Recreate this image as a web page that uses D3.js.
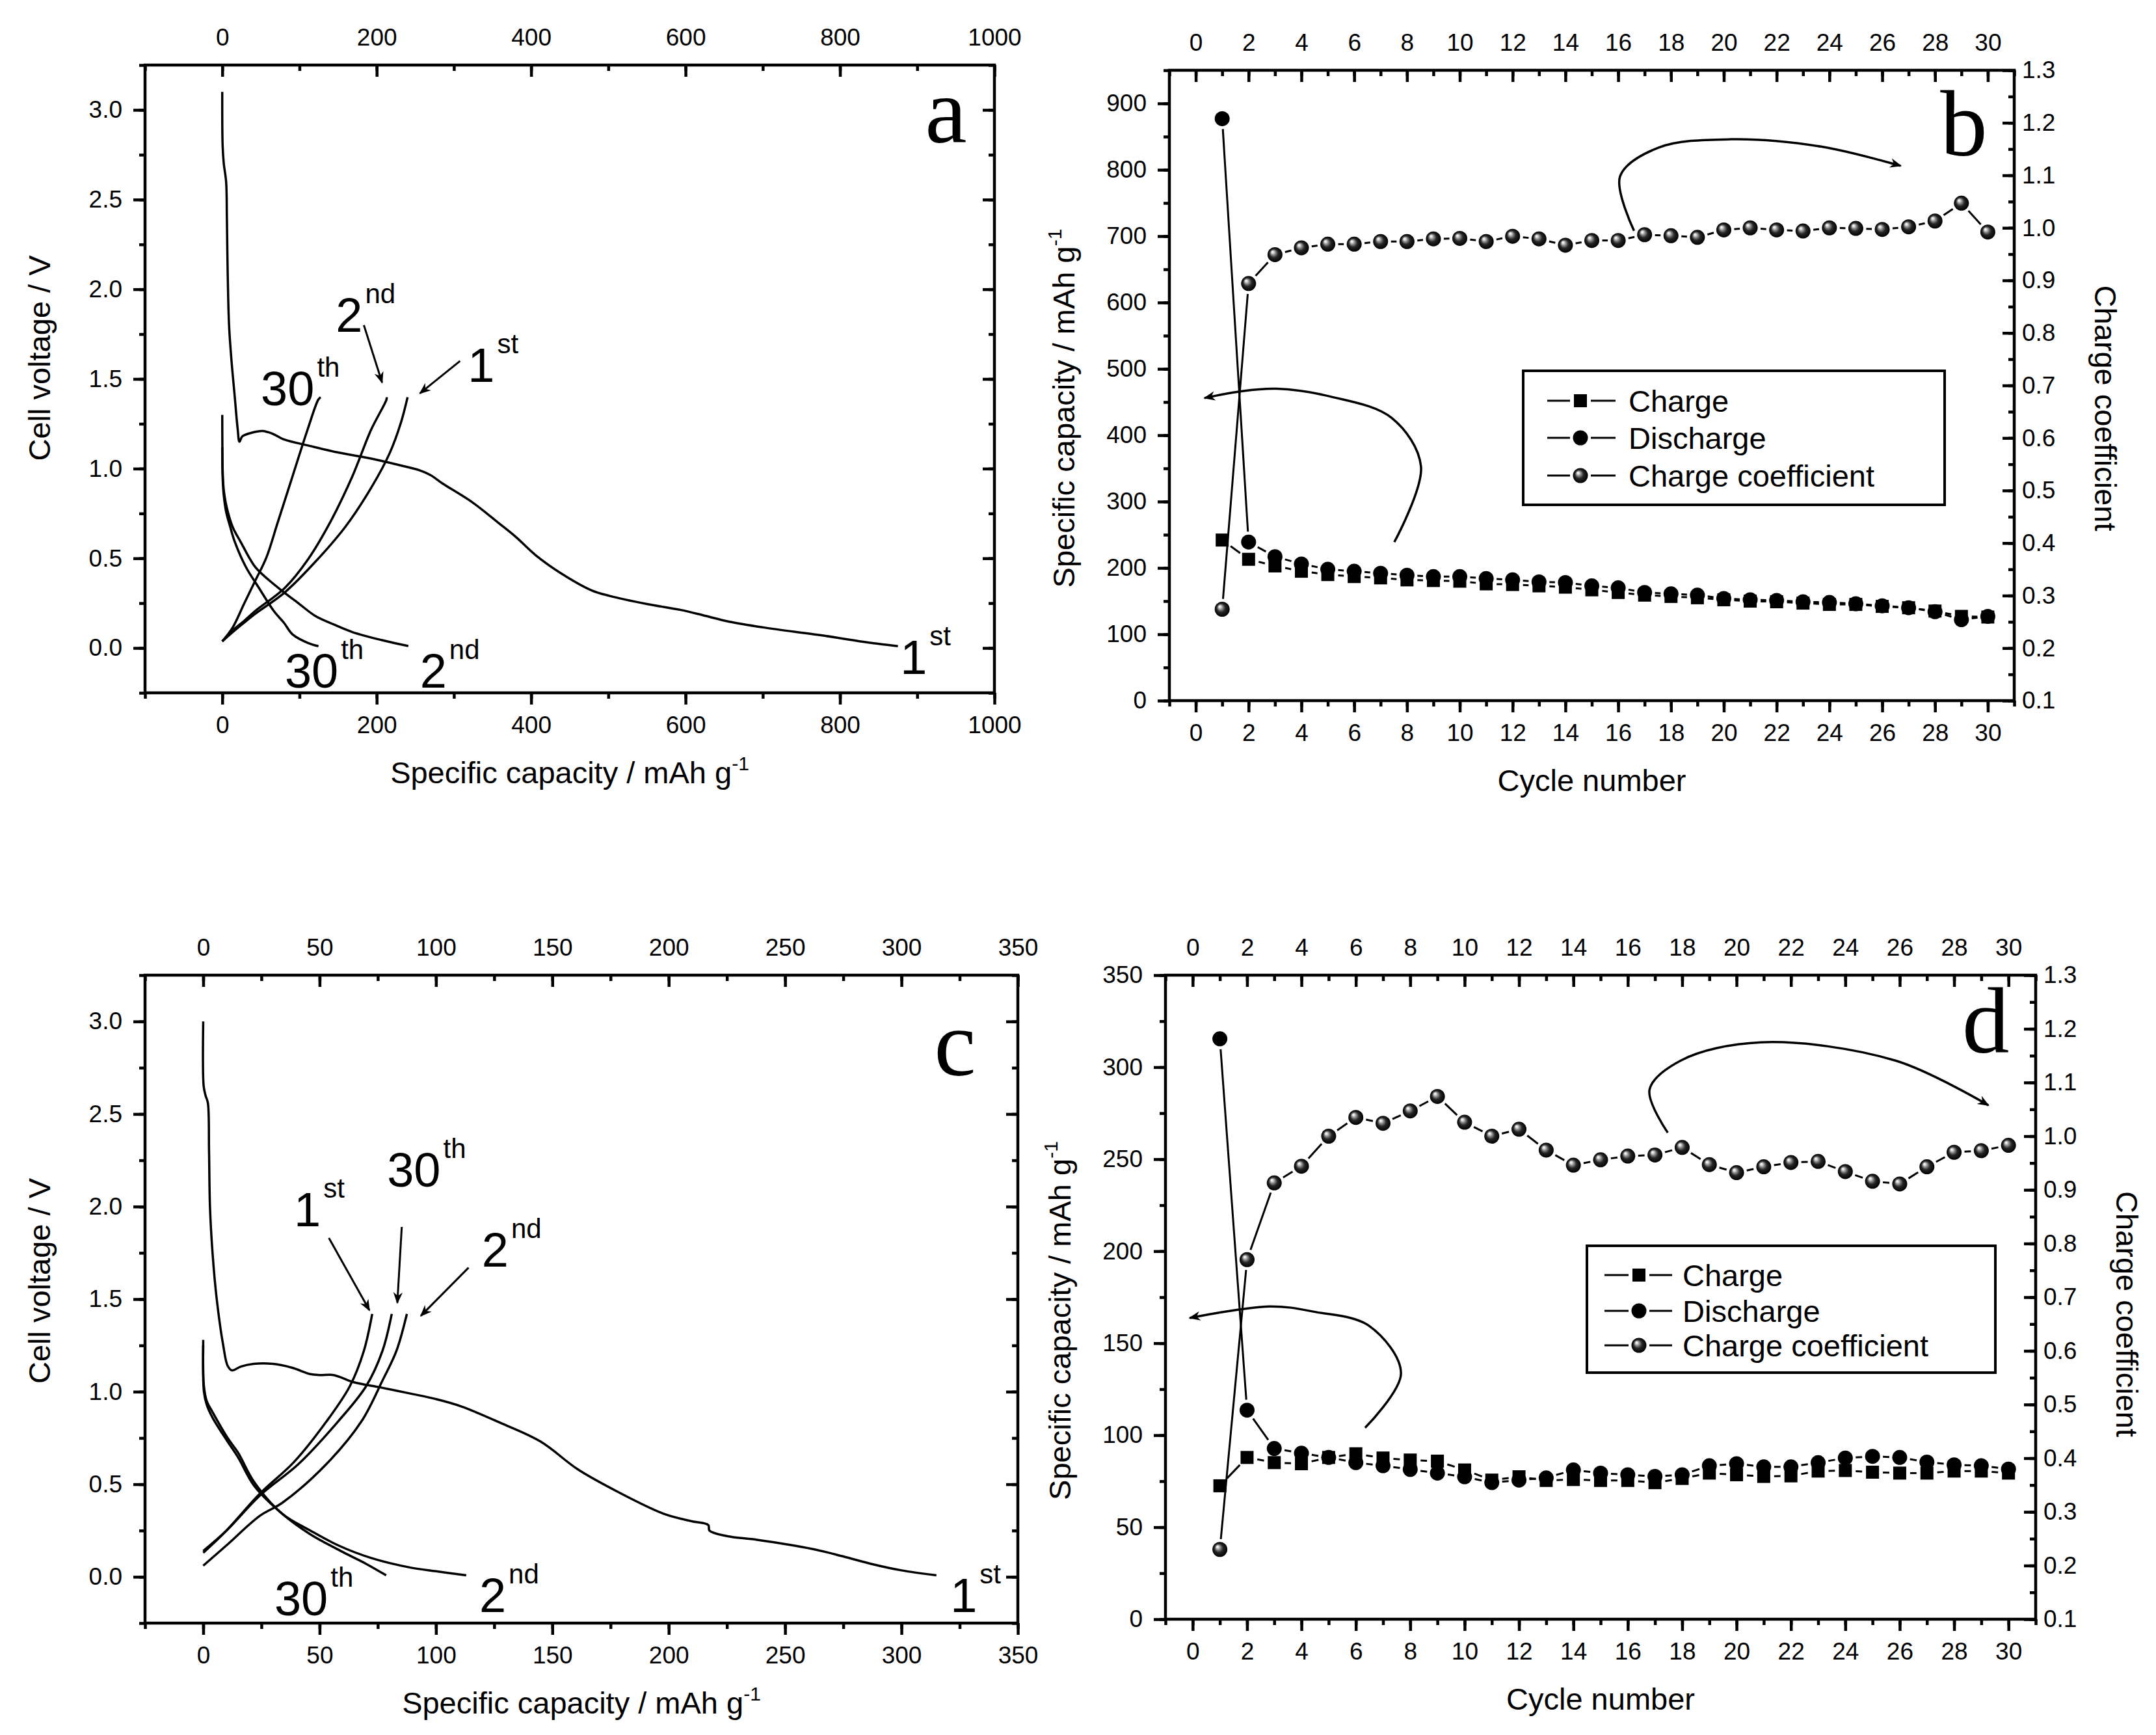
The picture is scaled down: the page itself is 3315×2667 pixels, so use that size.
<!DOCTYPE html>
<html>
<head>
<meta charset="utf-8">
<script src="https://cdn.jsdelivr.net/npm/d3@7"></script>
<style>
body { margin: 0; background: #fff; }
</style>
</head>
<body>
<script>
// ---- data: panel a (voltage profiles, mAh/g vs V)
const aDis1 = [[0,3.10],[0.5,2.80],[2,2.70],[5,2.60],[6,2.40],[7,2.10],[8.8,1.80],[12,1.60],[16,1.41],[20,1.22],[22.3,1.15],[26,1.18],[38,1.20],[52,1.21],[65,1.195],[79,1.164],[115,1.125],[150,1.09],[188,1.06],[227,1.022],[256,0.99],[270,0.963],[285,0.918],[323,0.815],[357,0.70],[380,0.62],[406,0.517],[440,0.413],[478,0.322],[502,0.29],[550,0.245],[594,0.212],[625,0.18],[656,0.147],[700,0.115],[777,0.07],[830,0.035],[875,0.01]];
const aDis2 = [[0,1.30],[0.2,1.10],[0.6,0.98],[2,0.88],[6,0.78],[13.7,0.672],[23.4,0.595],[42.6,0.452],[60,0.38],[76.5,0.322],[100,0.245],[120,0.18],[145,0.13],[168.5,0.089],[206.7,0.044],[241,0.011]];
const aDis30 = [[0,1.12],[0.5,0.95],[2,0.85],[5,0.76],[10,0.68],[16,0.595],[30.6,0.452],[47.5,0.335],[66.8,0.206],[80,0.14],[91,0.076],[110,0.03],[124.6,0.01]];
const aCha1 = [[0,0.037],[14,0.09],[28,0.14],[42.6,0.19],[81,0.31],[120,0.478],[158.8,0.672],[192.7,0.892],[216.9,1.087],[231.3,1.255],[240,1.398]];
const aCha2 = [[0,0.037],[14,0.10],[28,0.15],[42.6,0.206],[81,0.335],[110.4,0.49],[139.4,0.698],[168.5,0.957],[192.7,1.216],[212.6,1.384],[213,1.398]];
const aCha30 = [[0,0.037],[13.6,0.115],[28,0.244],[42.6,0.374],[57.1,0.504],[71.7,0.698],[91,0.957],[110.4,1.216],[124.3,1.384],[127.4,1.398]];

// ---- data: panel c
const cDis1 = [[0,3.0],[0.2,2.65],[1.0,2.60],[2.0,2.56],[2.5,2.3],[2.9,2.0],[4,1.75],[5.8,1.5],[8.6,1.25],[10.5,1.14],[12.4,1.115],[16,1.135],[21.6,1.15],[30,1.15],[38,1.13],[46,1.095],[50,1.09],[56,1.09],[65,1.05],[75,1.026],[89,0.99],[100,0.96],[111,0.92],[128,0.83],[145,0.73],[161,0.58],[178,0.46],[198,0.34],[210,0.30],[217,0.28],[217.5,0.25],[225,0.22],[238,0.20],[262,0.15],[275,0.11],[287,0.07],[300,0.035],[315,0.008]];
const cDis2 = [[0,1.28],[0.3,1.03],[1.5,0.95],[4,0.89],[10.5,0.75],[15,0.67],[22,0.51],[34,0.34],[46,0.25],[58,0.17],[72.6,0.10],[89,0.05],[100,0.03],[113,0.008]];
const cDis30 = [[0,1.25],[0.3,1.0],[1.5,0.93],[4,0.86],[10.5,0.73],[15,0.645],[22,0.49],[34,0.34],[46,0.23],[60.6,0.13],[70,0.07],[78.6,0.008]];
const cCha1 = [[0,0.13],[10,0.25],[24.4,0.45],[39,0.62],[53,0.84],[63,1.03],[69,1.22],[72.6,1.42]];
const cCha2 = [[0,0.06],[10,0.17],[24.4,0.33],[34,0.40],[53,0.61],[68,0.84],[77,1.06],[83,1.22],[87.5,1.42]];
const cCha30 = [[0,0.14],[10,0.25],[24.4,0.44],[41,0.61],[58,0.84],[70,1.03],[77,1.22],[81,1.42]];

// ---- data: panels b and d (per cycle)
const cycles = d3.range(1, 31);
const bCharge = [242,213,203,195,190,187,185,182,181,180,176,175,173,171,167,163,159,157,155,152,150,149,147,145,145,142,140,135,127,126];
const bDischarge = [877,239,217,206,198,195,192,189,187,187,184,182,179,178,173,170,163,161,159,154,152,151,149,148,146,143,140,134,122,127];
const bCoef = [0.274,0.894,0.949,0.962,0.969,0.969,0.974,0.974,0.979,0.980,0.974,0.984,0.979,0.967,0.976,0.976,0.987,0.985,0.982,0.996,1.000,0.996,0.994,1.000,0.999,0.997,1.002,1.013,1.047,0.992];
const dCharge = [72.5,87.9,85.1,84.5,87.9,89.9,87.6,86.5,85.9,81.1,75.6,77.4,75.4,75.9,75.4,75.4,74.2,76.5,79.4,78.5,77.6,77.9,80.5,80.8,79.9,79.4,79.4,80.5,80.5,79.4];
const dDischarge = [315.4,113.6,92.8,90.2,87.9,85.1,83.4,81.4,79.4,77.4,74.2,75.6,76.8,81.1,79.4,78.5,77.6,78.5,83.4,84.5,82.8,82.8,85.1,87.6,88.5,87.9,85.4,83.9,83.4,81.6];
const dCoef = [0.230,0.770,0.913,0.944,1.000,1.035,1.024,1.047,1.074,1.026,1.000,1.013,0.974,0.946,0.956,0.963,0.965,0.979,0.947,0.932,0.943,0.951,0.953,0.934,0.916,0.911,0.943,0.970,0.973,0.983];

// ---- text
const legendNames = ["Charge", "Discharge", "Charge coefficient"];
const capTitle = "Specific capacity / mAh g";
const voltTitle = "Cell voltage / V";
const cycleTitle = "Cycle number";
const coefTitle = "Charge coefficient";

// ---- annotations (data units of each panel)
const aLabels = [{t:"30",s:"th",x:50,y:1.353},{t:"2",s:"nd",x:147,y:1.763},{t:"1",s:"st",x:318,y:1.483},
                 {t:"30",s:"th",x:81,y:-0.221},{t:"2",s:"nd",x:256,y:-0.221},{t:"1",s:"st",x:878,y:-0.145}];
const aArrows = [[[183.4,1.80],[207,1.48]],[[308,1.60],[256,1.42]]];
const cLabels = [{t:"1",s:"st",x:39,y:1.894},{t:"30",s:"th",x:79,y:2.108},{t:"2",s:"nd",x:119.7,y:1.676},
                 {t:"30",s:"th",x:30.6,y:-0.207},{t:"2",s:"nd",x:118.6,y:-0.19},{t:"1",s:"st",x:321,y:-0.19}];
const cArrows = [[[54,1.83],[71.4,1.44]],[[85.3,1.89],[83.4,1.48]],[[114,1.67],[93.5,1.41]]];
const bBends = [[[7.52,239],[8.53,353],[7.42,426],[5.13,458],[3.06,470],[1.68,466],[0.33,456]],
                [[16.6,708],[16.07,790],[17.5,833],[20.26,846],[23.68,835],[26.7,806]]];
const dBends = [[[6.34,104],[7.66,133.6],[6.49,159.4],[4.5,167],[2.83,170],[-0.11,163.7]],
                [[17.47,264.4],[16.8,287.7],[17.95,303.6],[20.9,313.5],[25.84,303.6],[29.26,279.3]]];

const SANS = '"Liberation Sans", Arial, sans-serif';
const SERIF = '"Liberation Serif", "Times New Roman", serif';

const svg = d3.select("body").append("svg")
    .attr("width", 3315).attr("height", 2667)
    .style("background", "#fff");

const defs = svg.append("defs");
const grad = defs.append("radialGradient").attr("id", "sph")
    .attr("cx", "0.5").attr("cy", "0.5").attr("r", "0.5")
    .attr("fx", "0.32").attr("fy", "0.3");
[[0,"#ffffff"],[0.14,"#e0e0e0"],[0.32,"#8c8c8c"],[0.58,"#262626"],[1,"#000000"]]
    .forEach(s => grad.append("stop").attr("offset", s[0]).attr("stop-color", s[1]));
defs.append("marker").attr("id", "arr")
    .attr("viewBox", "0 0 10 10").attr("refX", 9).attr("refY", 5)
    .attr("markerUnits", "userSpaceOnUse").attr("markerWidth", 26).attr("markerHeight", 18)
    .attr("orient", "auto")
    .append("path").attr("d", "M0,1 L10,5 L0,9 L3,5 Z").attr("fill", "#000");

function styleAxis(sel, fs) {
    sel.select(".domain").remove();
    sel.selectAll("line").attr("stroke", "#000").attr("stroke-width", 4.5);
    sel.selectAll("text").attr("font-size", fs).attr("font-family", SANS).attr("fill", "#000");
}

function addAxis(g, ax, tr) {
    const s = g.append("g").attr("transform", tr).call(ax);
    styleAxis(s, 37);
    return s;
}

// build one framed panel with its axes
function makePanel(p) {
    const g = svg.append("g");
    const x = d3.scaleLinear().domain(p.xDom).range([p.x0, p.x1]);
    const y = d3.scaleLinear().domain(p.yDom).range([p.y1, p.y0]);
    const y2 = p.y2Dom ? d3.scaleLinear().domain(p.y2Dom).range([p.y1, p.y0]) : null;

    addAxis(g, d3.axisBottom(x).tickValues(p.xMinor).tickSize(9).tickFormat(""), `translate(0,${p.y1})`);
    addAxis(g, d3.axisBottom(x).tickValues(p.xMajor).tickSize(18).tickPadding(18).tickFormat(p.xFmt), `translate(0,${p.y1})`);
    addAxis(g, d3.axisTop(x).tickValues(p.xMinor).tickSize(-9).tickFormat(""), `translate(0,${p.y0})`);
    addAxis(g, d3.axisTop(x).tickValues(p.xMajor).tickSize(-18).tickPadding(30).tickFormat(p.xFmt), `translate(0,${p.y0})`);
    addAxis(g, d3.axisLeft(y).tickValues(p.yMinor).tickSize(9).tickFormat(""), `translate(${p.x0},0)`);
    addAxis(g, d3.axisLeft(y).tickValues(p.yMajor).tickSize(18).tickPadding(17).tickFormat(p.yFmt), `translate(${p.x0},0)`);
    if (y2) {
        addAxis(g, d3.axisRight(y2).tickValues(p.y2Minor).tickSize(-9).tickFormat(""), `translate(${p.x1},0)`);
        addAxis(g, d3.axisRight(y2).tickValues(p.y2Major).tickSize(-18).tickPadding(12).tickFormat(d3.format(".1f")), `translate(${p.x1},0)`);
    } else {
        addAxis(g, d3.axisRight(y).tickValues(p.yMinor).tickSize(-9).tickFormat(""), `translate(${p.x1},0)`);
        addAxis(g, d3.axisRight(y).tickValues(p.yMajor).tickSize(-18).tickFormat(""), `translate(${p.x1},0)`);
    }
    g.append("rect").attr("x", p.x0).attr("y", p.y0)
        .attr("width", p.x1 - p.x0).attr("height", p.y1 - p.y0)
        .attr("fill", "none").attr("stroke", "#000").attr("stroke-width", 4.5);

    // axis titles
    const xt = g.append("text").attr("x", (p.x0 + p.x1) / 2).attr("y", p.y1 + 139)
        .attr("text-anchor", "middle").attr("font-family", SANS).attr("font-size", 47);
    xt.append("tspan").text(p.xTitle);
    if (p.xSup) xt.append("tspan").attr("font-size", 30).attr("dy", -20).text("-1");

    const cy = (p.y0 + p.y1) / 2;
    const yt = g.append("text").attr("transform", `translate(${p.x0 - 162},${cy + (p.yShift || 0)}) rotate(-90)`)
        .attr("text-anchor", "middle").attr("dy", "0.35em")
        .attr("font-family", SANS).attr("font-size", 47);
    yt.append("tspan").text(p.yTitle);
    if (p.ySup) yt.append("tspan").attr("font-size", 30).attr("dy", -20).text("-1");

    if (p.y2Title) {
        g.append("text").attr("transform", `translate(${p.x1 + 140},${cy + (p.y2Shift || 0)}) rotate(90)`)
            .attr("text-anchor", "middle").attr("dy", "0.35em")
            .attr("font-family", SANS).attr("font-size", 47).text(p.y2Title);
    }
    g.append("text").attr("x", x(p.tag[1])).attr("y", y(p.tag[2]))
        .attr("font-family", SERIF).attr("font-size", 145).text(p.tag[0]);
    return {g, x, y, y2};
}

function drawCurves(P, list) {
    const line = d3.line().x(d => P.x(d[0])).y(d => P.y(d[1])).curve(d3.curveCatmullRom.alpha(0.5));
    list.forEach(c => P.g.append("path").attr("d", line(c)).attr("fill", "none")
        .attr("stroke", "#000").attr("stroke-width", 3.5).attr("stroke-linejoin", "round"));
}

function drawLabels(P, labels, arrows) {
    labels.forEach(l => {
        const t = P.g.append("text").attr("x", P.x(l.x)).attr("y", P.y(l.y))
            .attr("font-family", SANS).attr("font-size", 74);
        t.append("tspan").text(l.t);
        t.append("tspan").attr("font-size", 42).attr("dy", -44).attr("dx", 4).text(l.s);
    });
    arrows.forEach(a => P.g.append("line")
        .attr("x1", P.x(a[0][0])).attr("y1", P.y(a[0][1]))
        .attr("x2", P.x(a[1][0])).attr("y2", P.y(a[1][1]))
        .attr("stroke", "#000").attr("stroke-width", 3).attr("marker-end", "url(#arr)"));
}

function drawBends(P, bends) {
    const line = d3.line().x(d => P.x(d[0])).y(d => P.y(d[1])).curve(d3.curveCatmullRom.alpha(0.5));
    bends.forEach(b => P.g.append("path").attr("d", line(b)).attr("fill", "none")
        .attr("stroke", "#000").attr("stroke-width", 3.5).attr("marker-end", "url(#arr)"));
}

function marker(g, kind, cx, cy) {
    if (kind === "sq") {
        g.append("rect").attr("x", cx - 10).attr("y", cy - 10).attr("width", 20).attr("height", 20).attr("fill", "#000");
    } else if (kind === "dot") {
        g.append("circle").attr("cx", cx).attr("cy", cy).attr("r", 11.5).attr("fill", "#000");
    } else {
        g.append("circle").attr("cx", cx).attr("cy", cy).attr("r", 11.5).attr("fill", "url(#sph)");
    }
}

// line + symbols, with the small gap Origin leaves around each symbol
function drawSeries(P, vals, sy, kind) {
    const pts = cycles.map((c, i) => [P.x(c), sy(vals[i])]);
    const gap = 16;
    for (let i = 0; i < pts.length - 1; i++) {
        const [x1, y1] = pts[i], [x2, y2] = pts[i + 1];
        const len = Math.hypot(x2 - x1, y2 - y1);
        if (len <= 2 * gap + 2) continue;
        const ux = (x2 - x1) / len, uy = (y2 - y1) / len;
        P.g.append("line")
            .attr("x1", x1 + ux * gap).attr("y1", y1 + uy * gap)
            .attr("x2", x2 - ux * gap).attr("y2", y2 - uy * gap)
            .attr("stroke", "#000").attr("stroke-width", 3);
    }
    pts.forEach(p => marker(P.g, kind, p[0], p[1]));
}

function drawLegend(P, box, off) {
    P.g.append("rect").attr("x", box.x).attr("y", box.y).attr("width", box.w).attr("height", box.h)
        .attr("fill", "#fff").attr("stroke", "#000").attr("stroke-width", 4);
    const kinds = ["sq", "dot", "sph"];
    legendNames.forEach((name, i) => {
        const ry = box.rows[i];
        P.g.append("line").attr("x1", box.x + off.l0).attr("x2", box.x + off.m - 16)
            .attr("y1", ry).attr("y2", ry).attr("stroke", "#000").attr("stroke-width", 3);
        P.g.append("line").attr("x1", box.x + off.m + 16).attr("x2", box.x + off.l1)
            .attr("y1", ry).attr("y2", ry).attr("stroke", "#000").attr("stroke-width", 3);
        marker(P.g, kinds[i], box.x + off.m, ry);
        P.g.append("text").attr("x", box.x + off.t).attr("y", ry + 17)
            .attr("font-family", SANS).attr("font-size", 47).text(name);
    });
}

const fmt1 = d3.format(".1f");
const fmt0 = d3.format("d");
const vMajor = d3.range(0, 7).map(i => i * 0.5);
const vMinor = d3.range(-1, 14).map(i => i * 0.25);
const coefMajor = d3.range(1, 14).map(i => i / 10);
const coefMinor = d3.range(2, 27).map(i => i * 0.05);

// ---- panel a
const A = makePanel({x0: 223, x1: 1529, y0: 100, y1: 1065, xDom: [-100, 1000], yDom: [-0.25, 3.25],
    xMajor: d3.range(0, 1001, 200), xMinor: d3.range(-100, 1001, 100), xFmt: fmt0,
    yMajor: vMajor, yMinor: vMinor, yFmt: fmt1,
    xTitle: capTitle, xSup: true, yTitle: voltTitle, yShift: -32, tag: ["a", 910, 2.82]});
drawCurves(A, [aDis1, aDis2, aDis30, aCha1, aCha2, aCha30]);
drawLabels(A, aLabels, aArrows);

// ---- panel b
const B = makePanel({x0: 1798, x1: 3097, y0: 108, y1: 1077, xDom: [-1, 31], yDom: [0, 950],
    y2Dom: [0.1, 1.3], y2Major: coefMajor, y2Minor: coefMinor,
    xMajor: d3.range(0, 31, 2), xMinor: d3.range(-1, 32, 1), xFmt: fmt0,
    yMajor: d3.range(0, 901, 100), yMinor: d3.range(0, 951, 50), yFmt: fmt0,
    xTitle: cycleTitle, yTitle: capTitle, ySup: true, yShift: 35,
    y2Title: coefTitle, y2Shift: 35, tag: ["b", 28.2, 822]});
drawBends(B, bBends);
drawLegend(B, {x: 2342, y: 570, w: 648, h: 206, rows: [616, 673, 731]}, {l0: 37, m: 88, l1: 142, t: 162});
drawSeries(B, bCoef, B.y2, "sph");
drawSeries(B, bDischarge, B.y, "dot");
drawSeries(B, bCharge, B.y, "sq");

// ---- panel c
const C = makePanel({x0: 223, x1: 1565, y0: 1499, y1: 2495, xDom: [-25, 350], yDom: [-0.25, 3.25],
    xMajor: d3.range(0, 351, 50), xMinor: d3.range(-25, 351, 25), xFmt: fmt0,
    yMajor: vMajor, yMinor: vMinor, yFmt: fmt1,
    xTitle: capTitle, xSup: true, yTitle: voltTitle, yShift: -28, tag: ["c", 314, 2.71]});
drawCurves(C, [cDis1, cDis2, cDis30, cCha1, cCha2, cCha30]);
drawLabels(C, cLabels, cArrows);

// ---- panel d
const D = makePanel({x0: 1792, x1: 3130, y0: 1499, y1: 2489, xDom: [-1, 31], yDom: [0, 350],
    y2Dom: [0.1, 1.3], y2Major: coefMajor, y2Minor: coefMinor,
    xMajor: d3.range(0, 31, 2), xMinor: d3.range(-1, 32, 1), xFmt: fmt0,
    yMajor: d3.range(0, 351, 50), yMinor: d3.range(0, 351, 25), yFmt: fmt0,
    xTitle: cycleTitle, yTitle: capTitle, ySup: true, yShift: 36,
    y2Title: coefTitle, y2Shift: 26, tag: ["d", 28.3, 308]});
drawBends(D, dBends);
drawLegend(D, {x: 2440, y: 1915, w: 628, h: 195, rows: [1960, 2015, 2068]}, {l0: 27, m: 80, l1: 131, t: 147});
drawSeries(D, dCoef, D.y2, "sph");
drawSeries(D, dDischarge, D.y, "dot");
drawSeries(D, dCharge, D.y, "sq");
</script>
</body>
</html>
